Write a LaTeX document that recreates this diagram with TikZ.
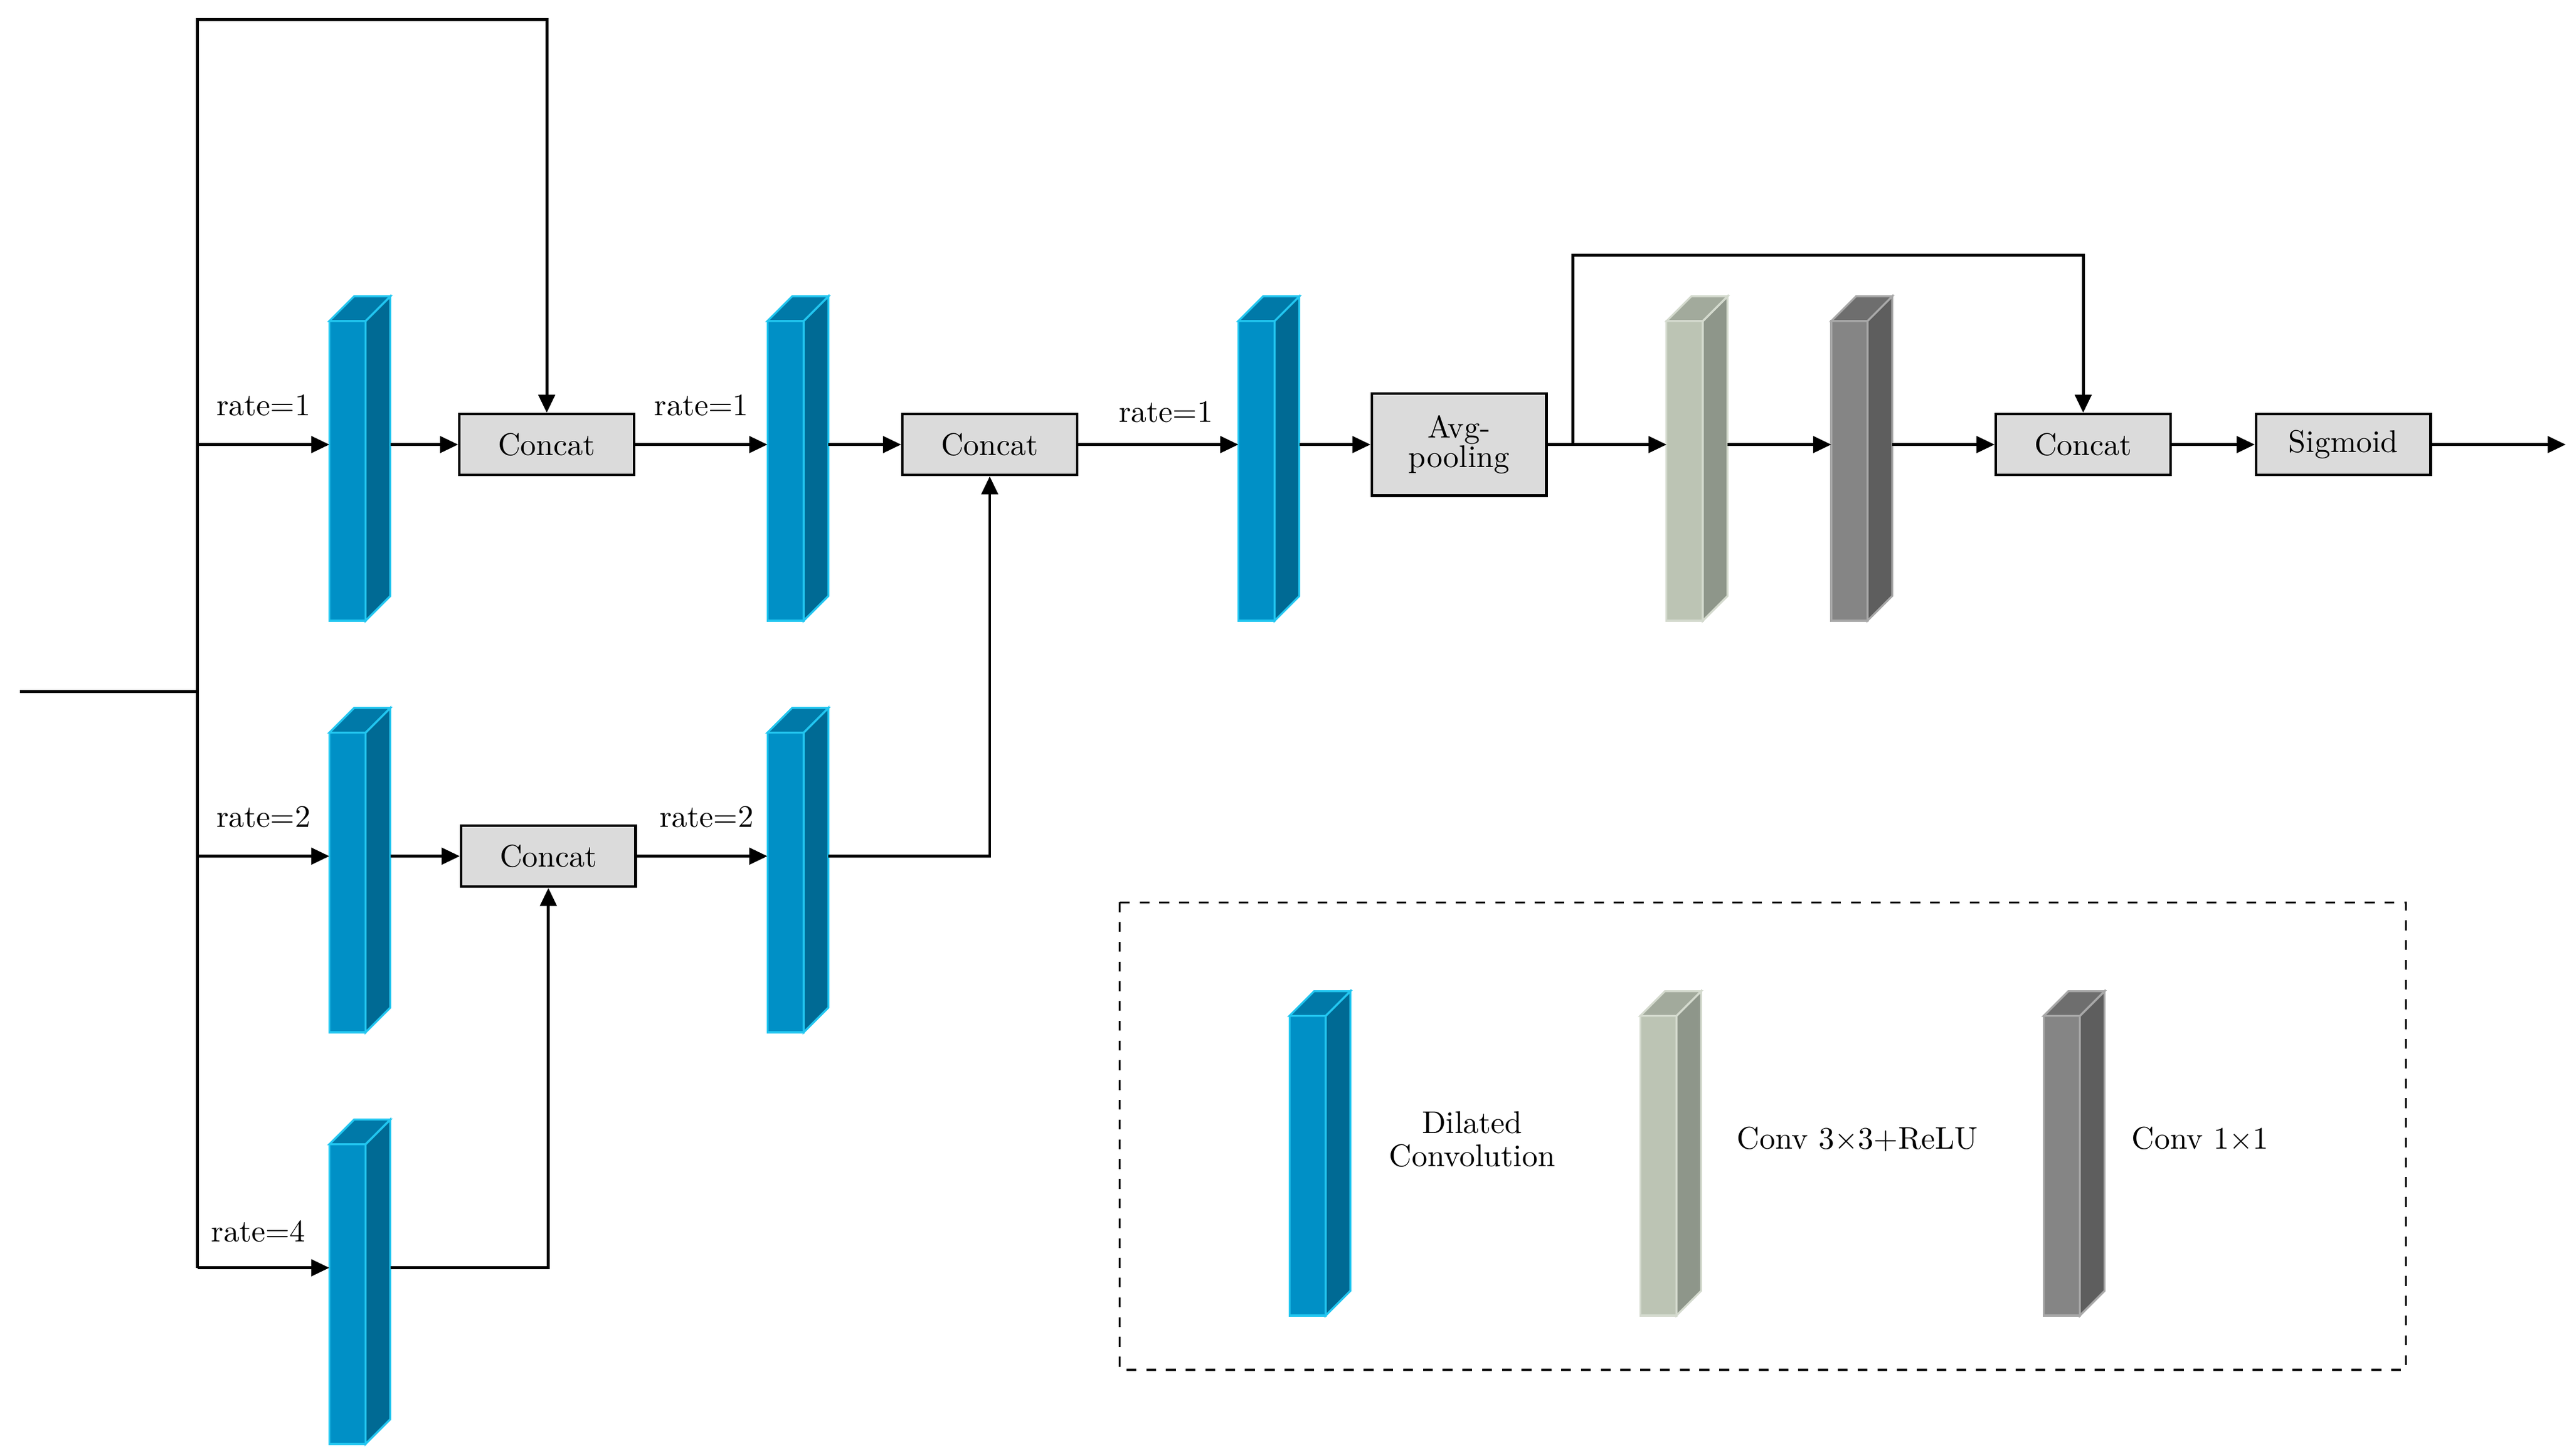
\documentclass[tikz,border=0pt]{standalone}
\usetikzlibrary{arrows.meta}
\begin{document}
\definecolor{bF}{HTML}{0090C6}\definecolor{bS}{HTML}{006A94}\definecolor{bT}{HTML}{0079A8}\definecolor{bO}{HTML}{22C6F0}
\definecolor{lF}{HTML}{BCC4B4}\definecolor{lS}{HTML}{8E968A}\definecolor{lT}{HTML}{A2AA9C}\definecolor{lO}{HTML}{D4DACE}
\definecolor{dF}{HTML}{858585}\definecolor{dS}{HTML}{5E5E5E}\definecolor{dT}{HTML}{6E6E6E}\definecolor{dO}{HTML}{A8A8A8}
\newcommand\blk[4]{%
 \fill[#4F,draw=#4O,line width=0.6pt] (#2,#3) rectangle ({#2+22},{#3+182});
 \fill[#4S,draw=#4O,line width=0.6pt] ({#2+22},#3)--({#2+37},{#3-15})--({#2+37},{#3+167})--({#2+22},{#3+182})--cycle;
 \fill[#4T,draw=#4O,line width=0.6pt] (#2,#3)--({#2+15},{#3-15})--({#2+37},{#3-15})--({#2+22},#3)--cycle;
 \coordinate (#1-w) at (#2,{#3+75});
 \coordinate (#1-e) at ({#2+37},{#3+75});}
\begin{tikzpicture}[x=0.5pt,y=-0.5pt,font=\fontsize{9.5}{11}\selectfont,
 box/.style={draw,fill=gray!28,line width=0.8pt,minimum width=53pt,minimum height=18.5pt,inner sep=1pt,align=center},
 ln/.style={line width=0.9pt},
 ar/.style={ln,-{Triangle[length=5.5pt,width=5pt]}}]
\useasboundingbox (0,0) rectangle (1560,884);
\blk{a1}{200}{195}{b}\blk{a2}{200}{445}{b}\blk{a3}{200}{695}{b}
\blk{b1}{466}{195}{b}\blk{b2}{466}{445}{b}
\blk{c1}{752}{195}{b}
\blk{g1}{1012}{195}{l}\blk{g2}{1112}{195}{d}
\blk{L1}{783}{617}{b}\blk{L2}{996}{617}{l}\blk{L3}{1241}{617}{d}
\node[box] (k1) at (332,270) {Concat};
\node[box] (k2) at (601,270) {Concat};
\node[box] (k3) at (333,520) {Concat};
\node[box,minimum height=31pt] (avg) at (886,270) {Avg-\\[-2pt]pooling};
\node[box] (k4) at (1265,270) {Concat};
\node[box] (sig) at (1423,270) {Sigmoid};
\coordinate (in) at (12,420); \coordinate (s) at (120,420);
\coordinate (t1) at (120,12); \coordinate (t2) at (332,12);
\coordinate (r1) at (120,270); \coordinate (r2) at (120,520); \coordinate (r3) at (120,770);
\coordinate (br) at (955,270); \coordinate (out) at (1558,270);
\draw[ln] (in)--(s);
\draw[ar] (r3)--(t1)--(t2)--(k1.north);
\draw[ar] (r1)--(a1-w); \draw[ar] (r2)--(a2-w); \draw[ar] (r3)--(a3-w);
\draw[ar] (a1-e)--(k1); \draw[ar] (k1)--(b1-w);
\draw[ar] (a2-e)--(k3); \draw[ar] (k3)--(b2-w);
\draw[ar] (a3-e)-|(k3.south);
\draw[ar] (b1-e)--(k2); \draw[ar] (b2-e)-|(k2.south);
\draw[ar] (k2)--(c1-w); \draw[ar] (c1-e)--(avg);
\draw[ar] (avg)--(g1-w); \draw[ar] (g1-e)--(g2-w); \draw[ar] (g2-e)--(k4);
\draw[ar] (br)--(955,155)-|(k4.north);
\draw[ar] (k4)--(sig); \draw[ar] (sig)--(out);
\node at (160,246) {rate=1}; \node at (426,246) {rate=1}; \node at (708,250) {rate=1};
\node at (160,496) {rate=2}; \node at (429,496) {rate=2}; \node at (157,748) {rate=4};
\draw[dashed,line width=0.6pt] (680,548) rectangle (1461,832);
\node[align=center] at (894,692) {Dilated\\[-1pt]Convolution};
\node at (1128,692) {Conv 3$\times$3+ReLU};
\node at (1336,692) {Conv 1$\times$1};
\end{tikzpicture}
\end{document}
